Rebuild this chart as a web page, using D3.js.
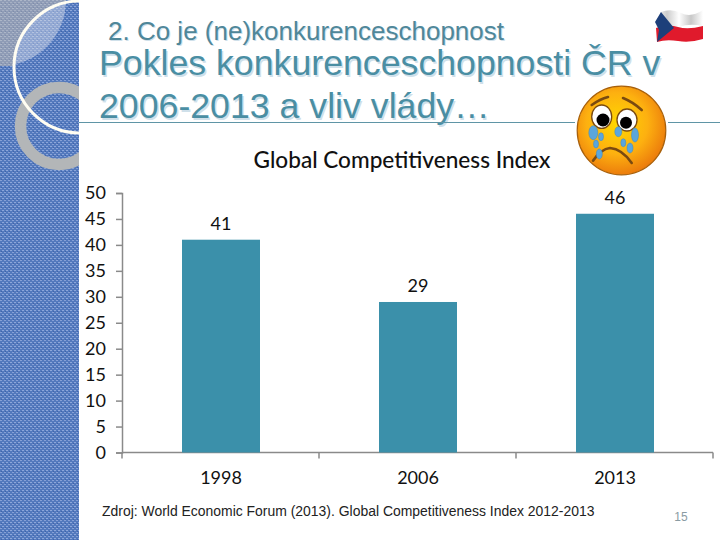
<!DOCTYPE html>
<html><head><meta charset="utf-8">
<style>html,body{margin:0;padding:0;background:#fff}svg{display:block}</style>
<script src="https://cdn.jsdelivr.net/npm/d3@7/dist/d3.min.js"></script></head>
<body><svg id="c" width="720" height="540"></svg>
<script>
const categories = ["1998","2006","2013"];
const values = [41,29,46];
const yTicks = [0,5,10,15,20,25,30,35,40,45,50];
const chartTitle = "Global Competitiveness Index";
const slideKicker = "2. Co je (ne)konkurenceschopnost";
const slideTitle = ["Pokles konkurenceschopnosti ČR v","2006-2013 a vliv vlády…"];
const sourceNote = "Zdroj: World Economic Forum (2013). Global Competitiveness Index 2012-2013";
const pageNumber = "15";

const svg = d3.select("#c");
const defs = svg.append("defs");
function texture(id,base,a,b,c){
  const t = defs.append("pattern").attr("id",id).attr("width",4).attr("height",4).attr("patternUnits","userSpaceOnUse");
  t.append("rect").attr("width",4).attr("height",4).attr("fill",base);
  t.append("rect").attr("width",2).attr("height",1).attr("fill",a);
  t.append("rect").attr("x",2).attr("y",2).attr("width",2).attr("height",1).attr("fill",b);
  t.append("rect").attr("x",1).attr("y",3).attr("width",1).attr("height",1).attr("fill",c);
}
texture("tex","#5379bd","#86a0d6","#8ca6da","#3f63aa");
texture("tex2","#92a8d3","#b4c3e0","#acbcdc","#8199c8");
texture("tex3","#8f9cb6","#acb6c8","#a6b0c4","#7f8dab");
defs.append("clipPath").attr("id","side").append("rect").attr("width",79).attr("height",540);
defs.append("clipPath").attr("id","outer").append("path").attr("clip-rule","evenodd")
  .attr("d","M0,0H66V66H0Z M14,67a66,66 0 1 0 132,0a66,66 0 1 0 -132,0Z");
const lg = defs.append("radialGradient").attr("id","face").attr("cx","45%").attr("cy","42%").attr("r","58%");
lg.append("stop").attr("offset","0%").attr("stop-color","#ffd800");
lg.append("stop").attr("offset","60%").attr("stop-color","#fdb010");
lg.append("stop").attr("offset","100%").attr("stop-color","#ec7d0c");
const fg = defs.append("linearGradient").attr("id","flagw").attr("x1",0).attr("x2",1);
[["0%","#fff"],["25%","#ccc"],["50%","#fff"],["75%","#c8c8c8"],["100%","#fff"]].forEach(d=>fg.append("stop").attr("offset",d[0]).attr("stop-color",d[1]));

// side panel
const side = svg.append("g").attr("clip-path","url(#side)");
side.append("rect").attr("width",79).attr("height",540).attr("fill","url(#tex)");
side.append("path").attr("d","M0,0H66A66,66 0 0 1 0,66Z").attr("fill","url(#tex2)");
side.append("rect").attr("width",66).attr("height",66).attr("fill","url(#tex3)").attr("clip-path","url(#outer)");
side.append("circle").attr("cx",59).attr("cy",126).attr("r",38.5).attr("fill","none").attr("stroke","#b3b6b8").attr("stroke-width",11.5);
side.append("circle").attr("cx",80).attr("cy",67).attr("r",66).attr("fill","none").attr("stroke","#fffdf2").attr("stroke-width",3);

// slide headings
const tc = "#4a8ea3", shadow = "#cfe0ea";
const txt = (s,x,y,size,fill,anchor,family,weight) => svg.append("text").attr("x",x).attr("y",y).attr("font-size",size)
  .attr("fill",fill).attr("text-anchor",anchor||"start").attr("font-family",family||"'Liberation Sans'").attr("font-weight",weight||400).text(s);
txt(slideKicker,109,41,26,shadow); txt(slideKicker,108,40,26,"#4f8799");
slideTitle.forEach((s,i)=>{ const y=[75,118][i];
  txt(s,100.5,y+1.5,35.7,shadow); txt(s,99,y,35.7,tc); });
svg.append("path").attr("d","M79,122.5H575M668,122.5H720").attr("stroke","#5f95a6").attr("stroke-width",1);

// chart
const x = d3.scaleBand().domain(categories).range([122.5,713.5]).paddingInner(0).paddingOuter(0);
const y = d3.scaleLinear().domain([0,50]).range([452.5,193]);
const barW = 78;
const axisFont = "Lato, 'Open Sans', sans-serif";
const gy = svg.append("g").attr("transform","translate(122,0)")
  .call(d3.axisLeft(y).tickValues(yTicks).tickSize(6).tickPadding(10).tickFormat(d3.format("d")));
const gx = svg.append("g").attr("transform","translate(0,452.5)")
  .call(d3.axisBottom(x).tickSize(0).tickPadding(19));
[gy,gx].forEach(g=>{g.selectAll("path,line").attr("stroke","#8a8a8a").attr("stroke-width",1.5);
  g.selectAll("text").attr("font-family",axisFont).attr("font-size",18).attr("fill","#111");});
gx.selectAll("path").attr("d","M122,0H713");
gx.selectAll(".tick line").remove();
gx.selectAll(".sep").data(d3.range(categories.length+1)).join("line").attr("class","sep")
  .attr("x1",i=>122+i*x.bandwidth()).attr("x2",i=>122+i*x.bandwidth()).attr("y1",0).attr("y2",6)
  .attr("stroke","#8a8a8a").attr("stroke-width",1.5);
svg.append("g").selectAll("rect").data(values).join("rect")
  .attr("x",(d,i)=>x(categories[i])+x.bandwidth()/2-barW/2).attr("width",barW)
  .attr("y",d=>y(d)).attr("height",d=>y(0)-y(d)).attr("fill","#3b90aa");
svg.append("g").selectAll("text").data(values).join("text")
  .attr("x",(d,i)=>x(categories[i])+x.bandwidth()/2).attr("y",d=>y(d)-10)
  .attr("text-anchor","middle").attr("font-family",axisFont).attr("font-size",18).attr("fill","#111").text(d=>d);
txt(chartTitle,402,168,22.6,"#111","middle",axisFont,500);
txt(sourceNote,102,516,13.95,"#222");
txt(pageNumber,681,521,12,"#8a9ba3","middle");

// crying face
const f = svg.append("g");
f.append("circle").attr("cx",621.5).attr("cy",130.5).attr("r",44.3).attr("fill","url(#face)").attr("stroke","#a8600a").attr("stroke-width",1.2);
[[601.7,116.7,10,11.7,603,120,6.5],[627,120,10,11,626,122.7,6]].forEach(e=>{
  f.append("ellipse").attr("cx",e[0]).attr("cy",e[1]).attr("rx",e[2]).attr("ry",e[3]).attr("fill","#fff").attr("stroke","#7a4a10").attr("stroke-width",1.3);
  f.append("circle").attr("cx",e[4]).attr("cy",e[5]).attr("r",e[6]).attr("fill","#000");
});
f.append("path").attr("d","M591.7,105Q600,99 608,97M623,98Q633,102 641.7,110").attr("stroke","#7a4a10").attr("stroke-width",2.6).attr("fill","none").attr("stroke-linecap","round");
f.append("path").attr("d","M593,160.7Q601,149 610,148Q622,149 631.7,163").attr("stroke","#7a4a10").attr("stroke-width",2.6).attr("fill","none").attr("stroke-linecap","round");
[[593.3,132.7,4.5,7],[601,136.7,2.5,4],[596,144,2.5,4],[599.3,154,3,5],[618.3,131.7,3.5,5],[623.3,142.7,2.5,4],[630,148,3,5],[635,135,3.5,7]].forEach(d=>{
  f.append("ellipse").attr("cx",d[0]).attr("cy",d[1]).attr("rx",d[2]).attr("ry",d[3]).attr("fill","#5aa6dc").attr("stroke","#3f86be").attr("stroke-width",.5);
});

// flag
const w = svg.append("g");
w.append("path").attr("d","M661,12Q671,8 681,13T703,10L703,26Q690,23 678,27T656,28Q654,20 656,21Z").attr("fill","url(#flagw)");
w.append("path").attr("d","M656,28Q668,24 678,27T703,26L703,39Q690,43 678,41T657,42Z").attr("fill","#e01a2c");
w.append("path").attr("d","M661,12L674,28L657,42L659,30L655,22Z").attr("fill","#1d3f7a");
</script></body></html>
